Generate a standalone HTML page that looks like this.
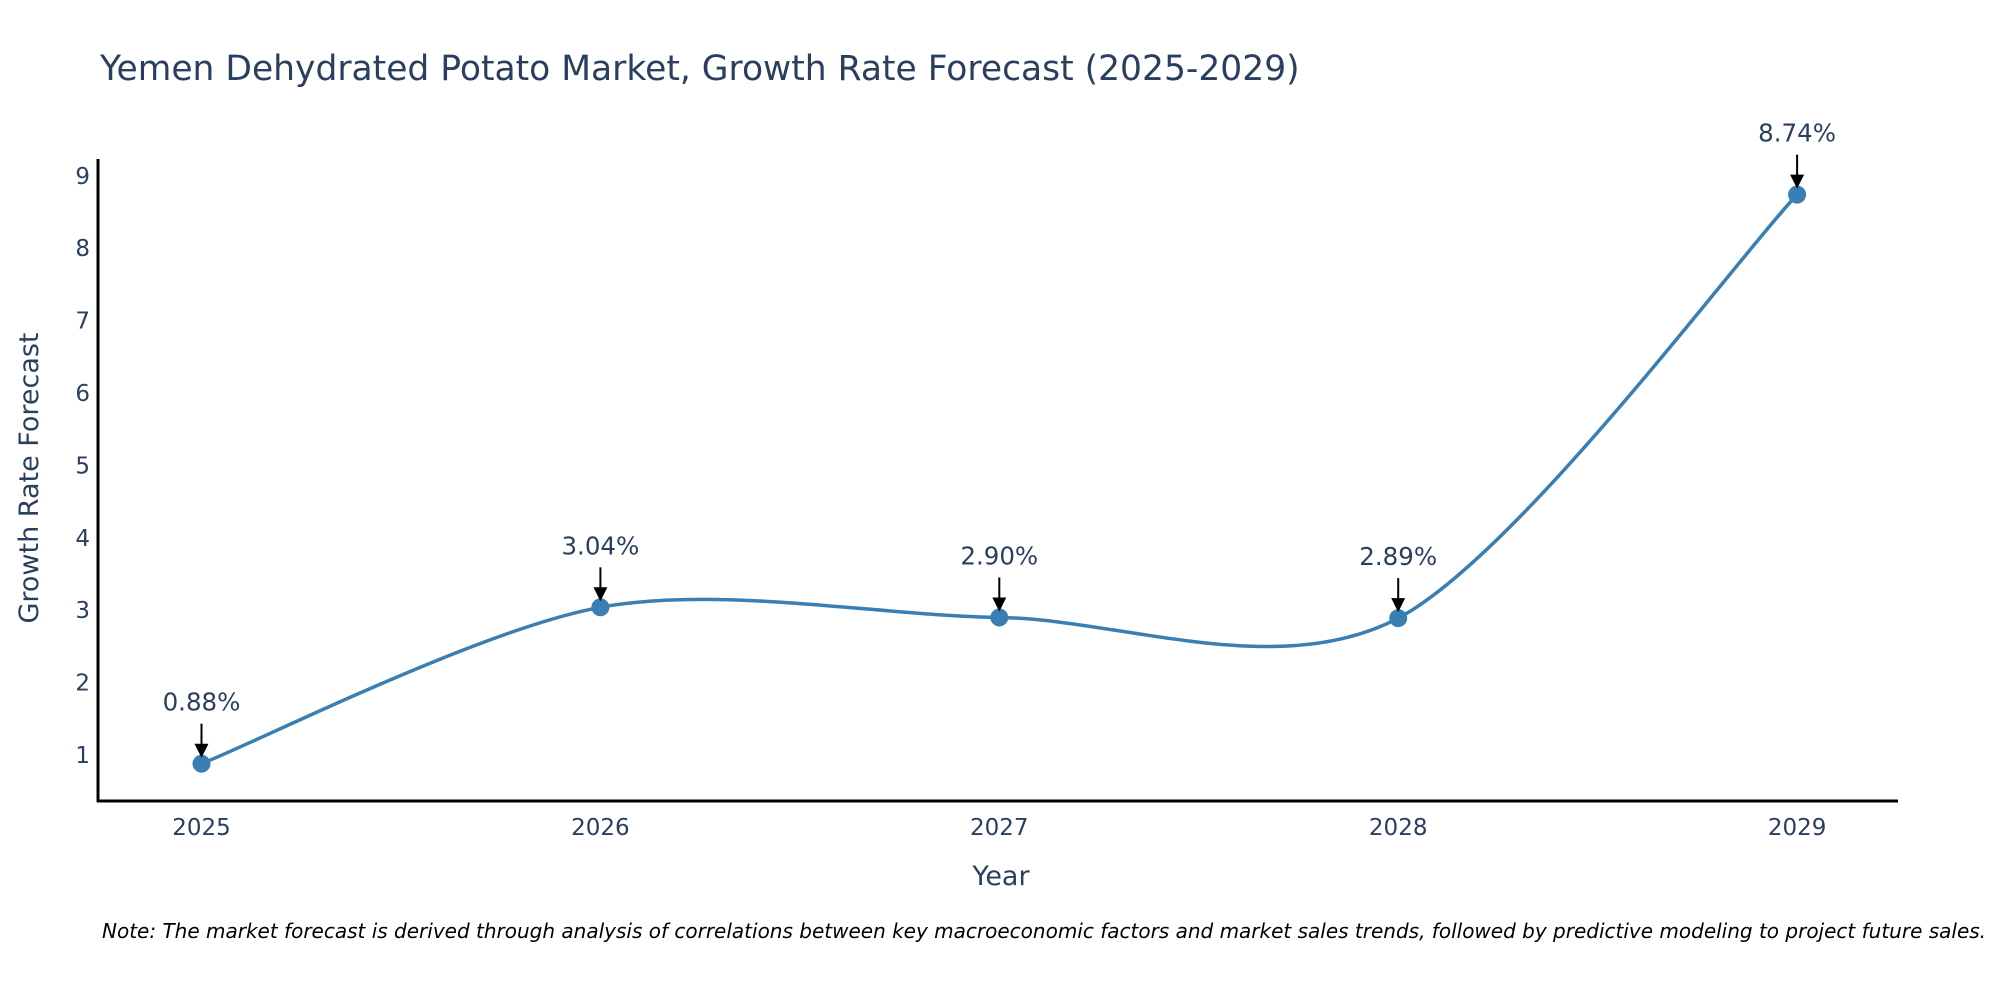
<!DOCTYPE html>
<html><head><meta charset="utf-8"><style>
body{margin:0;background:#fff;font-family:"Liberation Sans","DejaVu Sans",sans-serif}
svg text{font-family:"DejaVu Sans","Liberation Sans",sans-serif;fill:#2a3f5f}
</style></head><body>
<svg id="chart" width="2000" height="1000" xmlns="http://www.w3.org/2000/svg">
<rect width="2000" height="1000" fill="#fff"/>
<text x="100" y="80" font-size="34.5">Yemen Dehydrated Potato Market, Growth Rate Forecast (2025-2029)</text>
<g id="yticks"></g><g id="xticks"></g>
<path id="line" fill="none" stroke="#3a7fb4" stroke-width="3.5"/>
<g id="marks"></g>
<line x1="98" y1="159" x2="98" y2="802" stroke="#000" stroke-width="3"/>
<line x1="97" y1="801" x2="1898" y2="801" stroke="#000" stroke-width="3"/>
<text x="1001" y="885" font-size="27" text-anchor="middle">Year</text>
<text transform="translate(38,478) rotate(-90)" font-size="27" text-anchor="middle">Growth Rate Forecast</text>
<text x="102" y="938" font-size="20" font-style="italic" style="fill:#000">Note: The market forecast is derived through analysis of correlations between key macroeconomic factors and market sales trends, followed by predictive modeling to project future sales.</text>
</svg>
<script>
const years=["2025","2026","2027","2028","2029"];
const values=[0.88,3.04,2.90,2.89,8.74];
const labels=["0.88%","3.04%","2.90%","2.89%","8.74%"];
const yTicks=[1,2,3,4,5,6,7,8,9];
const NS="http://www.w3.org/2000/svg";
const xs=i=>201.5+i*398.9;
const ys=v=>755-(v-1)*72.4;
function mk(t,a,p){const e=document.createElementNS(NS,t);for(const k in a)e.setAttribute(k,a[k]);p.appendChild(e);return e;}
const yt=document.getElementById('yticks');
yTicks.forEach(v=>{const t=mk('text',{x:90,y:ys(v)+8,'font-size':23,'text-anchor':'end'},yt);t.textContent=v;

});
const xt=document.getElementById('xticks');
years.forEach((y,i)=>{const t=mk('text',{x:xs(i),y:835,'font-size':23,'text-anchor':'middle'},xt);t.textContent=y;

});
const P=values.map((v,i)=>[xs(i),ys(v)]);
let d='M'+P[0][0]+','+P[0][1];const s=0.45;
for(let i=0;i<P.length-1;i++){const p0=P[Math.max(i-1,0)],p1=P[i],p2=P[i+1],p3=P[Math.min(i+2,P.length-1)];
const c1=[p1[0]+(p2[0]-p0[0])*s/3,p1[1]+(p2[1]-p0[1])*s/3];
const c2=[p2[0]-(p3[0]-p1[0])*s/3,p2[1]-(p3[1]-p1[1])*s/3];
d+=` C${c1[0]},${c1[1]} ${c2[0]},${c2[1]} ${p2[0]},${p2[1]}`;}
document.getElementById('line').setAttribute('d',d);
const m=document.getElementById('marks');
P.forEach((p,i)=>{const c=mk('circle',{cx:p[0],cy:p[1],r:9,fill:'#3a7fb4'},m);


mk('line',{x1:p[0],y1:p[1]-40,x2:p[0],y2:p[1]-18,stroke:'#000','stroke-width':2},m);
mk('path',{d:`M${p[0]-7},${p[1]-20} L${p[0]+7},${p[1]-20} L${p[0]},${p[1]-6} Z`,fill:'#000'},m);
const t=mk('text',{x:p[0],y:p[1]-53,'font-size':24.5,'text-anchor':'middle'},m);t.textContent=labels[i];

});
</script>
</body></html>
